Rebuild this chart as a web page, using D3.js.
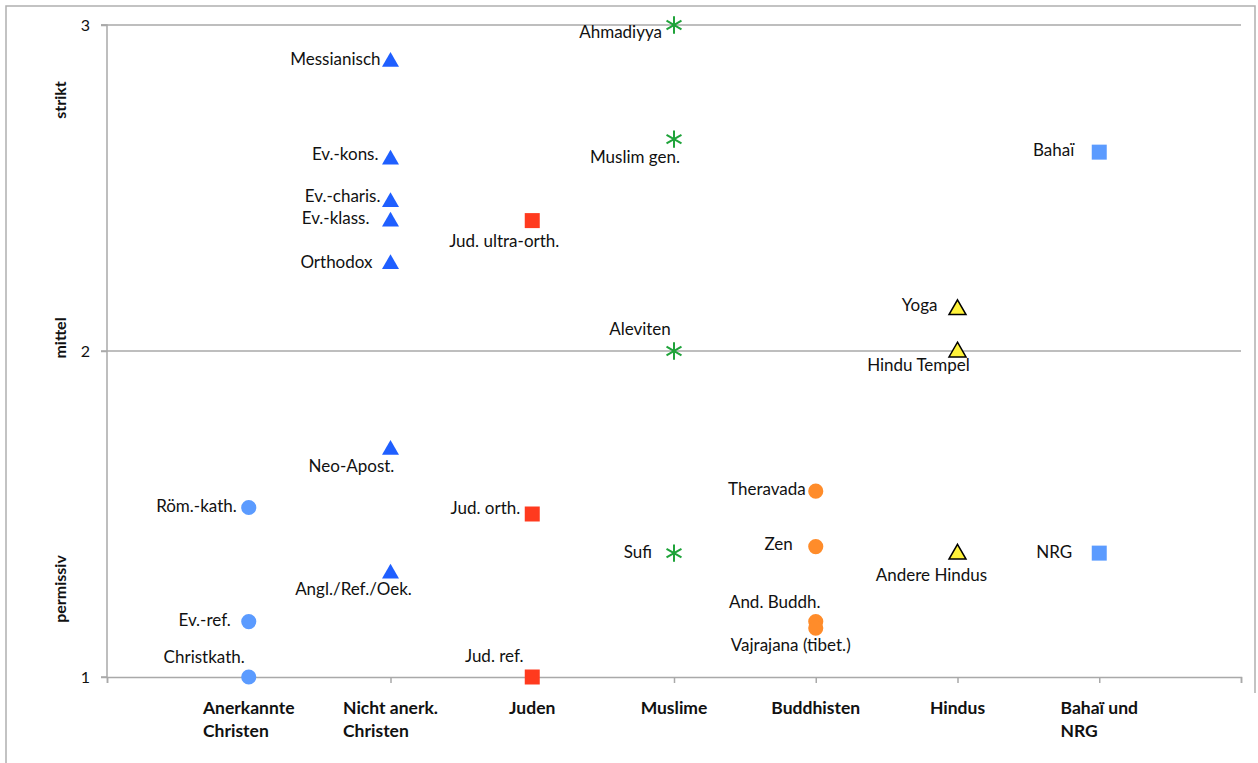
<!DOCTYPE html>
<html>
<head>
<meta charset="utf-8">
<script src="https://cdn.jsdelivr.net/npm/d3@7"></script>
<style>
  html, body { margin: 0; padding: 0; background: #fff; }
  svg { display: block; }
  text { font-family: Lato, "Open Sans", sans-serif; fill: #111; }
</style>
</head>
<body>
<svg id="chart" width="1258" height="763"></svg>
<script>
// ---------- data ----------
const categories = ["Anerkannte\nChristen", "Nicht anerk.\nChristen", "Juden", "Muslime", "Buddhisten", "Hindus", "Bahaï und\nNRG"];
const yTickValues = [1, 2, 3];
const yBandLabels = [["strikt", 2.77], ["mittel", 2.04], ["permissiv", 1.27]];

const anerkannteNames  = ["Röm.-kath.", "Ev.-ref.", "Christkath."];
const anerkannteValues = [1.52, 1.17, 1.0];

const nichtAnerkNames  = ["Messianisch", "Ev.-kons.", "Ev.-charis.", "Ev.-klass.", "Orthodox", "Neo-Apost.", "Angl./Ref./Oek."];
const nichtAnerkValues = [2.89, 2.59, 2.46, 2.40, 2.27, 1.70, 1.32];

const judenNames  = ["Jud. ultra-orth.", "Jud. orth.", "Jud. ref."];
const judenValues = [2.40, 1.50, 1.0];

const muslimeNames  = ["Ahmadiyya", "Muslim gen.", "Aleviten", "Sufi"];
const muslimeValues = [3.0, 2.65, 2.0, 1.38];

const buddhistenNames  = ["Theravada", "Zen", "And. Buddh.", "Vajrajana (tibet.)"];
const buddhistenValues = [1.57, 1.40, 1.17, 1.15];

const hindusNames  = ["Yoga", "Hindu Tempel", "Andere Hindus"];
const hindusValues = [2.13, 2.0, 1.38];

const bahaiNames  = ["Bahaï", "NRG"];
const bahaiValues = [2.61, 1.38];

// ---------- label placement (pixels, relative to the marker) ----------
const labelPlacement = {
  "Röm.-kath.": ["end", -12, 0], "Ev.-ref.": ["end", -18, 0], "Christkath.": ["end", -4, -18],
  "Messianisch": ["end", -10, 0], "Ev.-kons.": ["end", -12, -3], "Ev.-charis.": ["end", -10, -3],
  "Ev.-klass.": ["end", -21, -1], "Orthodox": ["end", -18, 1], "Neo-Apost.": ["middle", -39, 19],
  "Angl./Ref./Oek.": ["middle", -37, 18],
  "Jud. ultra-orth.": ["middle", -28, 22], "Jud. orth.": ["end", -12, -4], "Jud. ref.": ["middle", -38, -19],
  "Ahmadiyya": ["end", -12, 9], "Muslim gen.": ["middle", -39, 20], "Aleviten": ["middle", -34, -20], "Sufi": ["end", -22, 1],
  "Theravada": ["end", -10, 0], "Zen": ["end", -23, -1], "And. Buddh.": ["middle", -41, -18], "Vajrajana (tibet.)": ["middle", -25, 19],
  "Yoga": ["end", -20, -2], "Hindu Tempel": ["middle", -39, 16], "Andere Hindus": ["middle", -26, 24],
  "Bahaï": ["end", -25, 0], "NRG": ["end", -27, 1]
};

// ---------- series definitions ----------
const series = [
  { cat: 1, names: anerkannteNames, values: anerkannteValues, shape: "circle", fill: "#5b9bff", stroke: "none" },
  { cat: 2, names: nichtAnerkNames, values: nichtAnerkValues, shape: "triangle", fill: "#1f5fff", stroke: "none" },
  { cat: 3, names: judenNames, values: judenValues, shape: "square", fill: "#ff3a1e", stroke: "none" },
  { cat: 4, names: muslimeNames, values: muslimeValues, shape: "asterisk", fill: "none", stroke: "#1fa33a" },
  { cat: 5, names: buddhistenNames, values: buddhistenValues, shape: "circle", fill: "#ff8c2a", stroke: "none" },
  { cat: 6, names: hindusNames, values: hindusValues, shape: "triangle", fill: "#fff23a", stroke: "#000" },
  { cat: 7, names: bahaiNames, values: bahaiValues, shape: "square", fill: "#5b9bff", stroke: "none" }
];

// ---------- layout ----------
const svg = d3.select("#chart");
const plot = { left: 107, right: 1241, top: 25, bottom: 677 };
const x = d3.scaleLinear().domain([0, 8]).range([plot.left, plot.right]);
const y = d3.scaleLinear().domain([1, 3]).range([plot.bottom, plot.top]);
const gridColor = "#a9a9a9";
const labelFont = 17;

// outer frame
svg.append("path")
  .attr("d", `M6,770 L6,6 L1255,6 L1255,693`)
  .attr("fill", "none").attr("stroke", "#b0b0b0").attr("stroke-width", 1.5);

// horizontal gridlines
svg.append("g").selectAll("line").data(yTickValues.filter(v => v > 1)).join("line")
  .attr("x1", plot.left - 6).attr("x2", plot.right)
  .attr("y1", d => y(d)).attr("y2", d => y(d))
  .attr("stroke", gridColor).attr("stroke-width", 1.5);

// y axis
const yAxis = d3.axisLeft(y).tickValues(yTickValues).tickFormat(d3.format("d")).tickSize(6).tickPadding(11);
const gy = svg.append("g").attr("transform", `translate(${plot.left},0)`).call(yAxis);
gy.select(".domain").attr("stroke", gridColor).attr("stroke-width", 1.5).attr("d", `M-6,${plot.top}H0V${plot.bottom}H-6`);
gy.selectAll(".tick line").attr("stroke", gridColor).attr("stroke-width", 1.5);
gy.selectAll(".tick text").attr("font-family", "Lato, 'Open Sans', sans-serif").attr("font-size", 16).attr("fill", "#111");

// x axis (ticks only, labels drawn separately)
const xAxis = d3.axisBottom(x).tickValues(d3.range(0, 9)).tickFormat("").tickSize(6).tickSizeOuter(6);
const gx = svg.append("g").attr("transform", `translate(0,${plot.bottom})`).call(xAxis);
gx.select(".domain").attr("stroke", gridColor).attr("stroke-width", 1.5);
gx.selectAll(".tick line").attr("stroke", gridColor).attr("stroke-width", 1.5);

// category labels (left-aligned multi-line blocks centered at each category)
categories.forEach((c, i) => {
  const lines = c.split("\n");
  const t = svg.append("text").attr("font-size", 17.5).attr("font-weight", "bold")
    .attr("dominant-baseline", "middle");
  lines.forEach((ln, j) => {
    t.append("tspan").attr("x", 0).attr("y", 710 + j * 23).text(ln);
  });
  const w = d3.max(t.selectAll("tspan").nodes(), n => n.getComputedTextLength());
  t.selectAll("tspan").attr("x", x(i + 1) - w / 2);
});

// y band labels
yBandLabels.forEach(([lbl, v]) => {
  svg.append("text")
    .attr("transform", `translate(62,${y(v)}) rotate(-90)`)
    .attr("text-anchor", "middle").attr("dominant-baseline", "middle")
    .attr("font-size", 16).attr("font-weight", "bold").text(lbl);
});

// markers
const symbolType = { circle: d3.symbolCircle, triangle: d3.symbolTriangle, square: d3.symbolSquare, asterisk: d3.symbolAsterisk };
const symbolSize = { circle: 180, triangle: 125, square: 225, asterisk: 210 };

series.forEach(s => {
  const pts = s.names.map((n, i) => ({ name: n, v: s.values[i] }));
  const g = svg.append("g");
  g.selectAll("path").data(pts).join("path")
    .attr("transform", d => `translate(${x(s.cat)},${y(d.v) + (s.shape === "triangle" ? 1 : 0)})`)
    .attr("d", d3.symbol().type(symbolType[s.shape]).size(symbolSize[s.shape]))
    .attr("fill", s.fill)
    .attr("stroke", s.stroke)
    .attr("stroke-width", s.shape === "asterisk" ? 2 : 1.5);
  g.selectAll("text").data(pts).join("text")
    .attr("x", d => x(s.cat) + labelPlacement[d.name][1])
    .attr("y", d => y(d.v) + labelPlacement[d.name][2])
    .attr("text-anchor", d => labelPlacement[d.name][0])
    .attr("dominant-baseline", "middle")
    .attr("font-size", labelFont)
    .text(d => d.name);
});
</script>
</body>
</html>
